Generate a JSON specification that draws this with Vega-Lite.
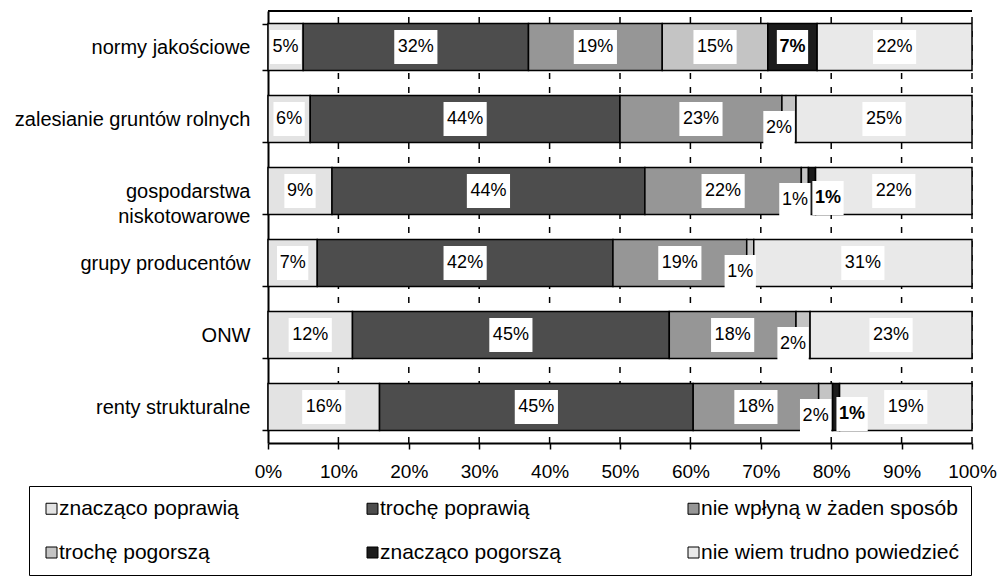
{
  "$schema": "https://vega.github.io/schema/vega-lite/v6.json",
  "width": 704,
  "height": 432,
  "autosize": {"type": "none"},
  "padding": {"left": 268, "top": 11, "right": 31, "bottom": 137},
  "background": "white",
  "config": {
    "view": {"stroke": null},
    "font": "Liberation Sans",
    "text": {"font": "Liberation Sans"}
  },
  "datasets": {
    "gridvals": [
      {"g": 0.1}, {"g": 0.2}, {"g": 0.3}, {"g": 0.4}, {"g": 0.5},
      {"g": 0.6}, {"g": 0.7}, {"g": 0.8}, {"g": 0.9}, {"g": 1.0}
    ],
    "answers": [
      {"c": "normy jakościowe", "s": "znacząco poprawią", "p": 0.05},
      {"c": "normy jakościowe", "s": "trochę poprawią", "p": 0.32},
      {"c": "normy jakościowe", "s": "nie wpłyną w żaden sposób", "p": 0.19},
      {"c": "normy jakościowe", "s": "trochę pogorszą", "p": 0.15},
      {"c": "normy jakościowe", "s": "znacząco pogorszą", "p": 0.07},
      {"c": "normy jakościowe", "s": "nie wiem trudno powiedzieć", "p": 0.22},
      {"c": "zalesianie gruntów rolnych", "s": "znacząco poprawią", "p": 0.06},
      {"c": "zalesianie gruntów rolnych", "s": "trochę poprawią", "p": 0.44},
      {"c": "zalesianie gruntów rolnych", "s": "nie wpłyną w żaden sposób", "p": 0.23},
      {"c": "zalesianie gruntów rolnych", "s": "trochę pogorszą", "p": 0.02},
      {"c": "zalesianie gruntów rolnych", "s": "nie wiem trudno powiedzieć", "p": 0.25},
      {"c": "gospodarstwa niskotowarowe", "s": "znacząco poprawią", "p": 0.09},
      {"c": "gospodarstwa niskotowarowe", "s": "trochę poprawią", "p": 0.44},
      {"c": "gospodarstwa niskotowarowe", "s": "nie wpłyną w żaden sposób", "p": 0.22},
      {"c": "gospodarstwa niskotowarowe", "s": "trochę pogorszą", "p": 0.01},
      {"c": "gospodarstwa niskotowarowe", "s": "znacząco pogorszą", "p": 0.01},
      {"c": "gospodarstwa niskotowarowe", "s": "nie wiem trudno powiedzieć", "p": 0.22},
      {"c": "grupy producentów", "s": "znacząco poprawią", "p": 0.07},
      {"c": "grupy producentów", "s": "trochę poprawią", "p": 0.42},
      {"c": "grupy producentów", "s": "nie wpłyną w żaden sposób", "p": 0.19},
      {"c": "grupy producentów", "s": "trochę pogorszą", "p": 0.01},
      {"c": "grupy producentów", "s": "nie wiem trudno powiedzieć", "p": 0.31},
      {"c": "ONW", "s": "znacząco poprawią", "p": 0.12},
      {"c": "ONW", "s": "trochę poprawią", "p": 0.45},
      {"c": "ONW", "s": "nie wpłyną w żaden sposób", "p": 0.18},
      {"c": "ONW", "s": "trochę pogorszą", "p": 0.02},
      {"c": "ONW", "s": "nie wiem trudno powiedzieć", "p": 0.23},
      {"c": "renty strukturalne", "s": "znacząco poprawią", "p": 0.16},
      {"c": "renty strukturalne", "s": "trochę poprawią", "p": 0.45},
      {"c": "renty strukturalne", "s": "nie wpłyną w żaden sposób", "p": 0.18},
      {"c": "renty strukturalne", "s": "trochę pogorszą", "p": 0.02},
      {"c": "renty strukturalne", "s": "znacząco pogorszą", "p": 0.01},
      {"c": "renty strukturalne", "s": "nie wiem trudno powiedzieć", "p": 0.19}
    ]
  },
  "layer": [
    {
      "data": {"name": "gridvals"},
      "mark": {"type": "rule", "color": "black", "strokeWidth": 1.5, "strokeDash": [6, 8], "strokeDashOffset": 8, "opacity": 1},
      "encoding": {
        "x": {"field": "g", "type": "quantitative", "axis": {"title": null}}
      }
    },
    {
      "data": {"name": "answers"},
      "transform": [
        {"calculate": "indexof(['znacząco poprawią','trochę poprawią','nie wpłyną w żaden sposób','trochę pogorszą','znacząco pogorszą','nie wiem trudno powiedzieć'], datum.s)", "as": "k"},
        {"stack": "p", "groupby": ["c"], "sort": [{"field": "k", "order": "ascending"}], "offset": "normalize", "as": ["p0", "p1"]},
        {"calculate": "(datum.p0 + datum.p1) / 2", "as": "pm"}
      ],
      "encoding": {
        "y": {
          "field": "c",
          "type": "nominal",
          "sort": ["normy jakościowe", "zalesianie gruntów rolnych", "gospodarstwa niskotowarowe", "grupy producentów", "ONW", "renty strukturalne"],
          "scale": {"paddingInner": 0.35, "paddingOuter": 0.175},
          "axis": {
            "title": null,
            "domainColor": "black",
            "domainWidth": 2,
            "tickColor": "black",
            "tickWidth": 1.5,
            "tickSize": 6,
            "tickBand": "extent",
            "labelFontSize": 20,
            "labelColor": "black",
            "labelPadding": 12,
            "labelLimit": 400,
            "labelLineHeight": 25,
            "labelExpr": "datum.label == 'gospodarstwa niskotowarowe' ? ['gospodarstwa', 'niskotowarowe'] : datum.label"
          }
        }
      },
      "layer": [
        {
          "mark": {"type": "bar", "stroke": "black", "strokeWidth": 1.5},
          "encoding": {
            "x": {
              "field": "p0",
              "type": "quantitative",
              "scale": {"domain": [0, 1], "nice": false},
              "axis": {
                "title": null,
                "format": ".0%",
                "values": [0, 0.1, 0.2, 0.3, 0.4, 0.5, 0.6, 0.7, 0.8, 0.9, 1],
                "grid": false,
                "domainColor": "black",
                "domainWidth": 2,
                "tickColor": "black",
                "tickWidth": 1.5,
                "tickSize": 6,
                "labelFontSize": 19,
                "labelColor": "black",
                "labelPadding": 13,
                "labelFlush": false
              }
            },
            "x2": {"field": "p1"},
            "color": {
              "field": "s",
              "type": "nominal",
              "scale": {
                "domain": ["znacząco poprawią", "trochę poprawią", "nie wpłyną w żaden sposób", "trochę pogorszą", "znacząco pogorszą", "nie wiem trudno powiedzieć"],
                "range": ["#e3e3e3", "#4d4d4d", "#969696", "#c4c4c4", "#1c1c1c", "#e9e9e9"]
              },
              "legend": {
                "title": null,
                "orient": "none",
                "legendX": -239,
                "legendY": 475,
                "direction": "horizontal",
                "columns": 3,
                "gridAlign": "all",
                "columnPadding": 45,
                "rowPadding": 22,
                "padding": 12,
                "strokeColor": "black",
                "fillColor": "white",
                "symbolType": "square",
                "symbolSize": 121,
                "symbolStrokeColor": "black",
                "symbolStrokeWidth": 1,
                "symbolOpacity": 1,
                "labelFontSize": 21,
                "labelColor": "black",
                "labelOffset": -3,
                "labelLimit": 400
              }
            }
          }
        },
        {
          "mark": {"type": "rule", "color": "black", "strokeWidth": 2},
          "encoding": {
            "x": {"datum": 0, "type": "quantitative"},
            "x2": {"datum": 1},
            "y": {"value": 0}
          }
        },
        {
          "transform": [{"filter": "datum.p >= 0.03"}],
          "mark": {"type": "point", "filled": true, "color": "white", "opacity": 1, "strokeWidth": 0},
          "encoding": {
            "x": {"field": "pm", "type": "quantitative"},
            "size": {"value": 1156},
            "shape": {
              "condition": {"test": "datum.p >= 0.1", "value": "M-1.27,-1H1.27V1H-1.27Z"},
              "value": "M-0.92,-1H0.92V1H-0.92Z"
            }
          }
        },
        {
          "transform": [{"filter": "datum.p >= 0.03 && datum.s != 'znacząco pogorszą'"}],
          "mark": {"type": "text", "fontSize": 18, "color": "black", "align": "center", "baseline": "middle"},
          "encoding": {
            "x": {"field": "pm", "type": "quantitative"},
            "text": {"field": "p", "type": "quantitative", "format": ".0%"}
          }
        },
        {
          "transform": [{"filter": "datum.p >= 0.03 && datum.s == 'znacząco pogorszą'"}],
          "mark": {"type": "text", "fontSize": 18, "fontWeight": "bold", "color": "black", "align": "center", "baseline": "middle"},
          "encoding": {
            "x": {"field": "pm", "type": "quantitative"},
            "text": {"field": "p", "type": "quantitative", "format": ".0%"}
          }
        },
        {
          "transform": [{"filter": "datum.p < 0.03 && datum.s == 'trochę pogorszą'"}],
          "mark": {"type": "point", "filled": true, "color": "white", "opacity": 1, "strokeWidth": 0, "xOffset": -10, "yOffset": 9},
          "encoding": {
            "x": {"field": "pm", "type": "quantitative"},
            "size": {"value": 1156},
            "shape": {"value": "M-0.92,-1H0.92V1H-0.92Z"}
          }
        },
        {
          "transform": [{"filter": "datum.p < 0.03 && datum.s == 'trochę pogorszą'"}],
          "mark": {"type": "text", "fontSize": 18, "color": "black", "align": "center", "baseline": "middle", "xOffset": -10, "yOffset": 9},
          "encoding": {
            "x": {"field": "pm", "type": "quantitative"},
            "text": {"field": "p", "type": "quantitative", "format": ".0%"}
          }
        },
        {
          "transform": [{"filter": "datum.p < 0.03 && datum.s == 'znacząco pogorszą'"}],
          "mark": {"type": "point", "filled": true, "color": "white", "opacity": 1, "strokeWidth": 0, "xOffset": 16, "yOffset": 7},
          "encoding": {
            "x": {"field": "pm", "type": "quantitative"},
            "size": {"value": 1156},
            "shape": {"value": "M-0.92,-1H0.92V1H-0.92Z"}
          }
        },
        {
          "transform": [{"filter": "datum.p < 0.03 && datum.s == 'znacząco pogorszą'"}],
          "mark": {"type": "text", "fontSize": 18, "fontWeight": "bold", "color": "black", "align": "center", "baseline": "middle", "xOffset": 16, "yOffset": 7},
          "encoding": {
            "x": {"field": "pm", "type": "quantitative"},
            "text": {"field": "p", "type": "quantitative", "format": ".0%"}
          }
        }
      ]
    }
  ]
}
